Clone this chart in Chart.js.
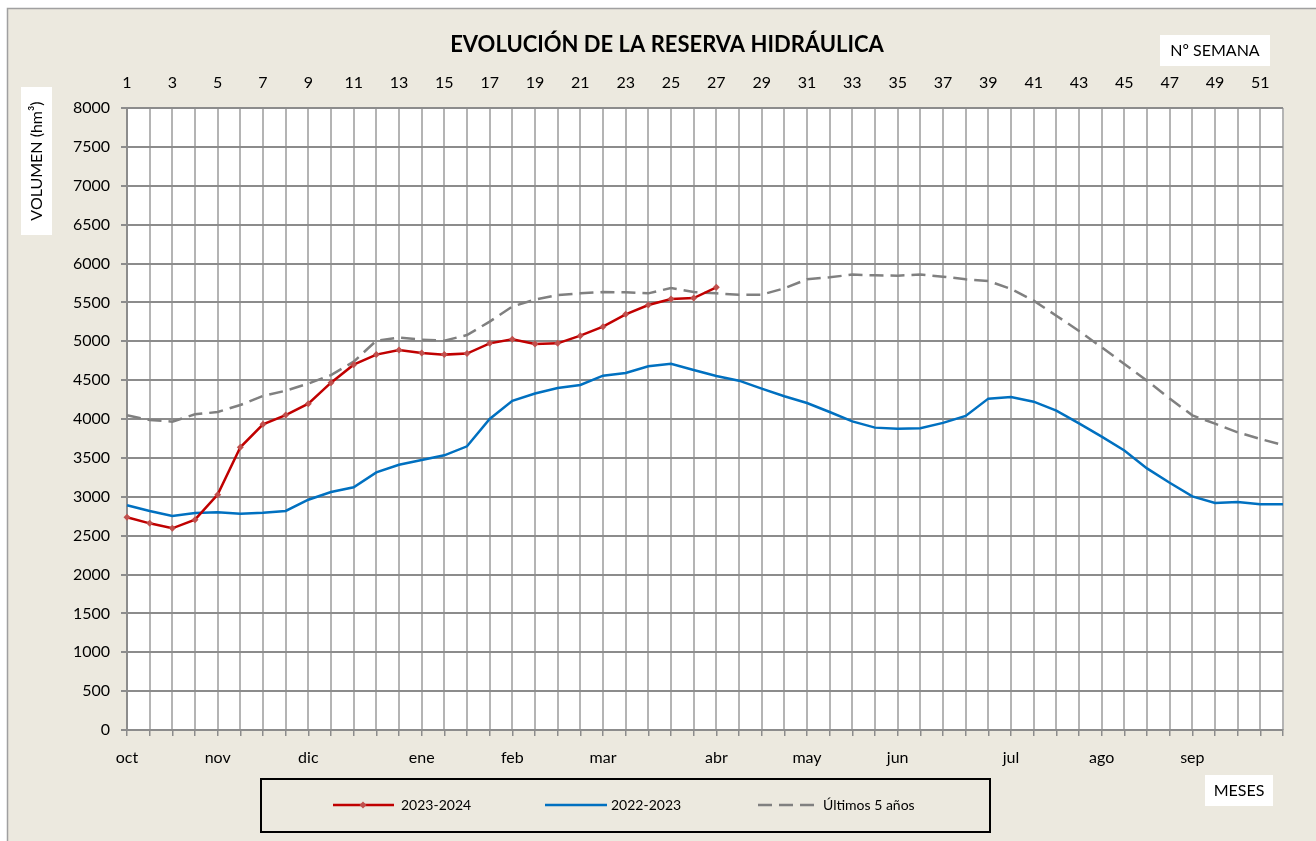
<!DOCTYPE html>
<html>
<head>
<meta charset="utf-8">
<title>Evolución de la reserva hidráulica</title>
<script src="https://cdn.jsdelivr.net/npm/chart.js@4.4.1/dist/chart.umd.min.js"></script>
<style>
  html, body { margin: 0; padding: 0; background: #fff; }
  #wrap { width: 1316px; height: 841px; position: relative; }
</style>
</head>
<body>
<div id="wrap"><canvas id="reserveChart" width="1316" height="841"></canvas></div>
<script>
const weeks = [1, 2, 3, 4, 5, 6, 7, 8, 9, 10, 11, 12, 13, 14, 15, 16, 17, 18, 19, 20,
  21, 22, 23, 24, 25, 26, 27, 28, 29, 30, 31, 32, 33, 34, 35, 36, 37, 38, 39, 40,
  41, 42, 43, 44, 45, 46, 47, 48, 49, 50, 51, 52];

const monthNames = ["oct", "nov", "dic", "ene", "feb", "mar", "abr", "may", "jun", "jul", "ago", "sep"];
const monthWeeks = [1, 5, 9, 14, 18, 22, 27, 31, 35, 40, 44, 48];

const yTicks = [0, 500, 1000, 1500, 2000, 2500, 3000, 3500, 4000, 4500, 5000, 5500, 6000, 6500, 7000, 7500, 8000];

const season2324 = [2736, 2658, 2594, 2705, 3027, 3636, 3932, 4051, 4197, 4467,
  4699, 4828, 4887, 4849, 4828, 4841, 4973, 5025, 4965, 4973,
  5072, 5188, 5346, 5466, 5543, 5556, 5694];

const season2223 = [2890, 2817, 2752, 2791, 2800, 2782, 2795, 2817, 2962, 3061,
  3121, 3314, 3412, 3473, 3533, 3649, 4000, 4234, 4328, 4399,
  4437, 4557, 4592, 4678, 4711, 4630, 4553, 4493, 4390, 4292,
  4206, 4090, 3970, 3889, 3876, 3880, 3950, 4039, 4262, 4283,
  4223, 4107, 3944, 3773, 3595, 3365, 3180, 3005, 2920, 2933,
  2903, 2903];

const last5Years = [4047, 3987, 3966, 4060, 4090, 4180, 4296, 4364, 4455, 4565,
  4737, 5007, 5046, 5020, 5007, 5080, 5252, 5447, 5535, 5595,
  5616, 5633, 5629, 5616, 5685, 5633, 5616, 5599, 5599, 5681,
  5797, 5823, 5857, 5848, 5844, 5857, 5831, 5797, 5775, 5672,
  5522, 5329, 5132, 4922, 4707, 4493, 4262, 4047, 3940, 3829,
  3743, 3666];

const BEIGE = "#ECE9DF";
const RED = "#C00000";
const RED_MARK = "#C0504D";
const BLUE = "#0070C0";
const GREY = "#808080";

Chart.defaults.font.family = "Lato, 'Noto Sans', sans-serif";
Chart.defaults.color = "#000";

// background, frame, plot fill
const framePlugin = {
  id: "frame",
  beforeDraw(chart) {
    const ctx = chart.ctx;
    const a = chart.chartArea;
    ctx.save();
    ctx.fillStyle = "#fff";
    ctx.fillRect(0, 0, chart.width, chart.height);
    ctx.fillStyle = BEIGE;
    ctx.fillRect(7, 8, chart.width, chart.height);
    ctx.strokeStyle = "#A0A0A0";
    ctx.lineWidth = 1.5;
    ctx.beginPath();
    ctx.moveTo(7.5, chart.height);
    ctx.lineTo(7.5, 8.5);
    ctx.lineTo(chart.width, 8.5);
    ctx.stroke();
    ctx.fillStyle = "#fff";
    ctx.fillRect(a.left, a.top, a.right - a.left, a.bottom - a.top);
    ctx.restore();
  },
  afterDraw(chart) {
    const ctx = chart.ctx;
    ctx.save();
    // title
    ctx.fillStyle = "#000";
    ctx.font = "bold 22px Lato, sans-serif";
    ctx.textAlign = "center";
    ctx.textBaseline = "middle";
    ctx.fillText("EVOLUCIÓN DE LA RESERVA HIDRÁULICA", 667, 45);

    // white label boxes
    ctx.fillStyle = "#fff";
    ctx.fillRect(1160, 35, 110, 31);
    ctx.fillRect(1205, 775, 68, 31);
    ctx.fillRect(21, 87, 31, 148);
    ctx.fillStyle = "#000";
    ctx.font = "16px Lato, sans-serif";
    ctx.fillText("Nº SEMANA", 1215, 51);
    ctx.fillText("MESES", 1239, 791);
    ctx.save();
    ctx.translate(37, 161);
    ctx.rotate(-Math.PI / 2);
    ctx.fillText("VOLUMEN (hm³)", 0, 0);
    ctx.restore();

    // legend
    ctx.fillStyle = BEIGE;
    ctx.fillRect(261, 779, 729, 53);
    ctx.strokeStyle = "#000";
    ctx.lineWidth = 2;
    ctx.strokeRect(261, 779, 729, 53);

    const ly = 805;
    ctx.lineWidth = 2.5;
    ctx.strokeStyle = RED;
    ctx.beginPath(); ctx.moveTo(333, ly); ctx.lineTo(394, ly); ctx.stroke();
    ctx.fillStyle = RED_MARK;
    ctx.beginPath();
    ctx.moveTo(363, ly - 3.5); ctx.lineTo(366.5, ly); ctx.lineTo(363, ly + 3.5); ctx.lineTo(359.5, ly);
    ctx.closePath(); ctx.fill();

    ctx.strokeStyle = BLUE;
    ctx.beginPath(); ctx.moveTo(545, ly); ctx.lineTo(607, ly); ctx.stroke();

    ctx.strokeStyle = GREY;
    ctx.setLineDash([14, 7]);
    ctx.beginPath(); ctx.moveTo(758, ly); ctx.lineTo(820, ly); ctx.stroke();
    ctx.setLineDash([]);

    ctx.fillStyle = "#000";
    ctx.font = "14px Lato, sans-serif";
    ctx.textAlign = "left";
    ctx.fillText("2023-2024", 401, ly);
    ctx.fillText("2022-2023", 611, ly);
    ctx.fillText("Últimos 5 años", 823, ly);
    ctx.restore();
  }
};

const ctx = document.getElementById("reserveChart").getContext("2d");
new Chart(ctx, {
  type: "line",
  data: {
    labels: weeks,
    datasets: [
      {
        label: "2023-2024",
        data: season2324,
        borderColor: RED,
        borderWidth: 2.5,
        pointStyle: "rectRot",
        pointRadius: 3.5,
        pointBackgroundColor: RED_MARK,
        pointBorderColor: RED_MARK,
        pointBorderWidth: 0,
        tension: 0,
        xAxisID: "x",
      },
      {
        label: "2022-2023",
        data: season2223,
        borderColor: BLUE,
        borderWidth: 2.5,
        pointRadius: 0,
        tension: 0,
        xAxisID: "x",
      },
      {
        label: "Últimos 5 años",
        data: last5Years,
        borderColor: GREY,
        borderWidth: 2.5,
        borderDash: [14, 7],
        pointRadius: 0,
        tension: 0,
        xAxisID: "x",
      },
    ],
  },
  options: {
    responsive: false,
    animation: false,
    layout: { padding: { left: 0, right: 33, top: 0, bottom: 0 } },
    plugins: {
      legend: { display: false },
      title: { display: false },
      tooltip: { enabled: false },
    },
    scales: {
      x: {
        type: "category",
        position: "top",
        offset: false,
        afterFit: function (scale) { scale.height = 108; },
        grid: {
          color: "#B4B4B4",
          lineWidth: 2,
          drawTicks: false,
        },
        border: { display: false },
        ticks: {
          autoSkip: false,
          maxRotation: 0,
          padding: 16,
          font: { size: 16 },
          callback: function (value, index) {
            const w = weeks[index];
            return w % 2 === 1 ? String(w) : "";
          },
        },
      },
      x2: {
        type: "category",
        position: "bottom",
        offset: false,
        afterFit: function (scale) { scale.height = 111; },
        grid: {
          drawOnChartArea: false,
          drawTicks: true,
          tickLength: 6,
          tickColor: "#8C8C8C",
          lineWidth: 1.5,
        },
        border: { display: true, color: "#8C8C8C", width: 2 },
        ticks: {
          autoSkip: false,
          maxRotation: 0,
          padding: 12,
          font: { size: 16 },
          callback: function (value, index) {
            const i = monthWeeks.indexOf(weeks[index]);
            return i >= 0 ? monthNames[i] : "";
          },
        },
      },
      y: {
        min: 0,
        max: 8000,
        afterFit: function (scale) { scale.width = 127; },
        afterBuildTicks: function (scale) {
          scale.ticks = yTicks.map((v) => ({ value: v }));
        },
        grid: {
          color: "#8C8C8C",
          lineWidth: 2,
          drawTicks: true,
          tickLength: 6,
          tickColor: "#8C8C8C",
        },
        border: { display: true, color: "#8C8C8C", width: 2 },
        ticks: {
          padding: 11,
          font: { size: 16 },
          callback: function (value) { return String(value); },
        },
      },
    },
  },
  plugins: [framePlugin],
});
</script>
</body>
</html>
